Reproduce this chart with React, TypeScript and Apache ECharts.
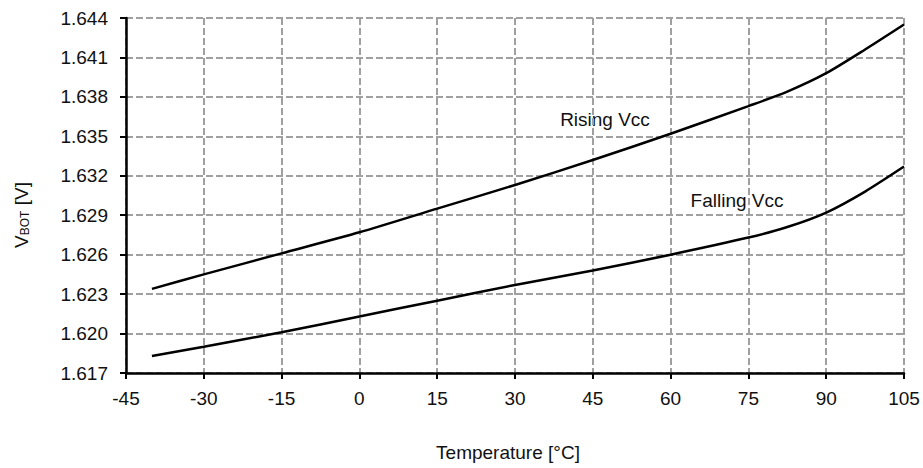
import React, { useEffect, useRef } from "react";
import * as echarts from "echarts";

const temps = [-40, -30, -15, 0, 15, 30, 45, 60, 75, 82.5, 90, 97.5, 105];
const rising = [1.6234, 1.6245, 1.6261, 1.6277, 1.6295, 1.6313, 1.6332, 1.6352, 1.6373, 1.6384, 1.6398, 1.6416, 1.6435];
const falling = [1.6183, 1.6190, 1.6201, 1.6213, 1.6225, 1.6237, 1.6248, 1.6260, 1.6273, 1.6281, 1.6292, 1.6308, 1.6327];
const xTicks = [-45, -30, -15, 0, 15, 30, 45, 60, 75, 90, 105];
const yTicks = [1.617, 1.62, 1.623, 1.626, 1.629, 1.632, 1.635, 1.638, 1.641, 1.644];
const seriesLabels = ["Rising Vcc", "Falling Vcc"];
const xName = "Temperature [°C]";

const FONT = "Liberation Sans, Arial, sans-serif";
const FS = 19;

export default function App() {
  const ref = useRef<HTMLDivElement>(null);
  useEffect(() => {
    if (!ref.current) return;
    const chart = echarts.init(ref.current, undefined, { renderer: "svg" });
    const grid = { color: "#a0a0a0", width: 2, type: [7, 3] as any };
    chart.setOption({
      animation: false,
      backgroundColor: "#ffffff",
      grid: { left: 126, right: 19, top: 18, bottom: 95, containLabel: false },
      xAxis: {
        type: "value",
        min: xTicks[0],
        max: xTicks[xTicks.length - 1],
        interval: 15,
        axisLine: { show: true, onZero: false, lineStyle: { color: "#000", width: 2.5 } },
        axisTick: { show: true, length: 6, lineStyle: { color: "#000", width: 2 } },
        axisLabel: { color: "#111", fontSize: FS, fontFamily: FONT, margin: 16 },
        splitLine: { show: true, lineStyle: grid },
      },
      yAxis: {
        type: "value",
        min: yTicks[0],
        max: yTicks[yTicks.length - 1],
        interval: 0.003,
        axisLine: { show: true, onZero: false, lineStyle: { color: "#000", width: 2.5 } },
        axisTick: { show: true, length: 6, lineStyle: { color: "#000", width: 2 } },
        axisLabel: {
          color: "#111",
          fontSize: FS,
          fontFamily: FONT,
          margin: 18,
          formatter: (v: number) => v.toFixed(3),
        },
        splitLine: { show: true, lineStyle: grid },
      },
      series: [
        {
          name: seriesLabels[0],
          type: "line",
          smooth: 0.25,
          showSymbol: false,
          data: temps.map((t, i) => [t, rising[i]]),
          lineStyle: { color: "#000", width: 2.5 },
        },
        {
          name: seriesLabels[1],
          type: "line",
          smooth: 0.25,
          showSymbol: false,
          data: temps.map((t, i) => [t, falling[i]]),
          lineStyle: { color: "#000", width: 2.5 },
        },
      ],
      graphic: [
        {
          type: "text",
          x: 605,
          y: 119,
          style: { text: seriesLabels[0], fontSize: FS, fontFamily: FONT, fill: "#111", align: "center", verticalAlign: "middle" },
        },
        {
          type: "text",
          x: 737,
          y: 200,
          style: { text: seriesLabels[1], fontSize: FS, fontFamily: FONT, fill: "#111", align: "center", verticalAlign: "middle" },
        },
        {
          type: "text",
          x: 508,
          y: 452,
          style: { text: xName, fontSize: FS, fontFamily: FONT, fill: "#111", align: "center", verticalAlign: "middle" },
        },
        {
          type: "text",
          x: 21,
          y: 215,
          rotation: Math.PI / 2,
          style: {
            text: "{v|V}{s|BOT}{v| [V]}",
            align: "center",
            verticalAlign: "middle",
            rich: {
              v: { fontSize: FS, fontFamily: FONT, fill: "#111", color: "#111" },
              s: { fontSize: 12, fontFamily: FONT, fill: "#111", color: "#111", padding: [7, 0, 0, 0] },
            },
          },
        },
      ],
    });
    return () => chart.dispose();
  }, []);
  return <div ref={ref} style={{ width: 923, height: 468, position: "absolute", left: 0, top: 0 }} />;
}
